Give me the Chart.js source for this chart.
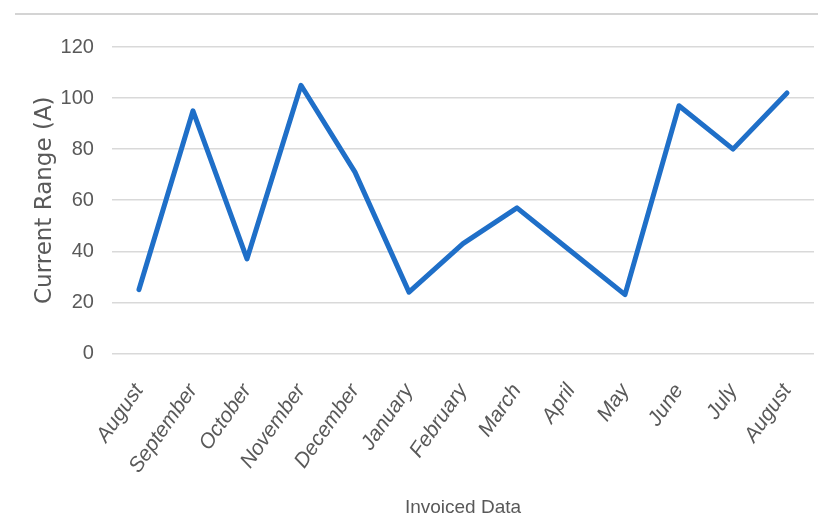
<!DOCTYPE html>
<html lang="en">
<head>
  <meta charset="UTF-8" />
  <title>Current Range by Invoiced Month</title>
  <script src="https://cdn.jsdelivr.net/npm/chart.js"></script>
  <style>
    html, body { margin: 0; padding: 0; background: #fff; }
    #wrap { position: relative; width: 818px; height: 517px; }
  </style>
</head>
<body>
<div id="wrap"><canvas id="chartCanvas" width="818" height="517"></canvas></div>

<script>
  // invoiced months (starts and ends in August)
  const months = ['August', 'September', 'October', 'November', 'December', 'January',
                  'February', 'March', 'April', 'May', 'June', 'July', 'August'];
  // current range in amps
  const currentRange = [25, 95, 37, 105, 71, 24, 43, 57, 40, 23, 97, 80, 102];
  const yTicks = [0, 20, 40, 60, 80, 100, 120];

  const grey = '#595959';
  const sans = '"Liberation Sans", Arial, sans-serif';

  // thin rule across the top like the original frame
  const topRule = {
    id: 'topRule',
    beforeDraw(chart) {
      const c = chart.ctx;
      c.save();
      c.strokeStyle = '#d4d4d4';
      c.lineWidth = 2;
      c.beginPath();
      c.moveTo(15, 14);
      c.lineTo(chart.width, 14);
      c.stroke();
      c.restore();
    }
  };

  const ctx = document.getElementById('chartCanvas').getContext('2d');
  new Chart(ctx, {
    type: 'line',
    data: {
      labels: months,
      datasets: [{
        data: currentRange,
        borderColor: '#1f6fc8',
        borderWidth: 5,
        borderJoinStyle: 'round',
        borderCapStyle: 'round',
        pointRadius: 0,
        tension: 0,
        fill: false
      }]
    },
    options: {
      responsive: false,
      animation: false,
      layout: { padding: { top: 47, left: 27, right: 4, bottom: 0 } },
      scales: {
        x: {
          offset: true,
          grid: { display: false },
          border: { display: false },
          // let the slanted first label hang into the y-axis area, as in the original
          afterFit(axis) { axis.paddingLeft = 0; axis.paddingRight = 0; },
          ticks: {
            color: grey,
            minRotation: 55,
            maxRotation: 55,
            padding: 18,
            font: { family: sans, size: 21, style: 'italic' }
          },
          title: {
            display: true,
            text: 'Invoiced Data',
            color: grey,
            font: { family: sans, size: 19, lineHeight: 1 },
            padding: { top: 2, bottom: 0 }
          }
        },
        y: {
          min: yTicks[0],
          max: yTicks[yTicks.length - 1],
          afterBuildTicks(axis) { axis.ticks = yTicks.map(v => ({ value: v })); },
          // invisible tick marks give the gap between numbers and gridlines
          grid: { color: '#d9d9d9', lineWidth: 1.5, drawTicks: true, tickLength: 16, tickColor: 'rgba(0,0,0,0)' },
          border: { display: false },
          ticks: {
            color: grey,
            padding: 2,
            font: { family: sans, size: 20 }
          },
          title: {
            display: true,
            text: 'Current Range (A)',
            color: grey,
            font: { family: '"DejaVu Sans", Verdana, sans-serif', size: 23, lineHeight: 1.2 },
            padding: { top: 4, bottom: 0 }
          }
        }
      },
      plugins: {
        legend: { display: false },
        tooltip: { enabled: false }
      }
    },
    plugins: [topRule]
  });
</script>
</body>
</html>
